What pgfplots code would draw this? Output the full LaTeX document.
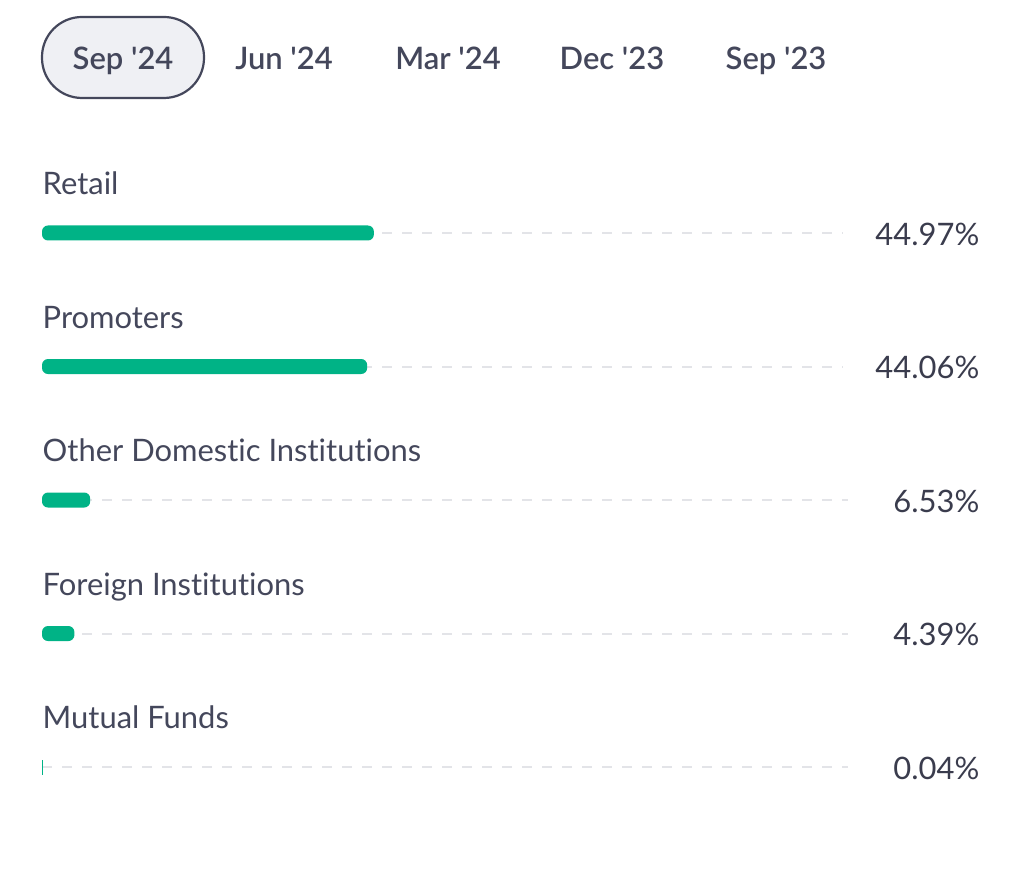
\documentclass[border=0pt]{standalone}
\usepackage{pgfplots}
\pgfplotsset{compat=1.18}
\usepackage{fontspec}
\setmainfont{Lato}[Ligatures={TeXOff,NoCommon}]
\newfontfamily\tabfont{Lato Semibold}[Ligatures={TeXOff,NoCommon}]
\definecolor{grgreen}{HTML}{00B386}
\definecolor{txt}{HTML}{44475B}
\definecolor{track}{HTML}{E3E4E8}
\definecolor{pill}{HTML}{EFF0F4}
% pixel position -> axis coordinates (x: percent, y: row index)
\newcommand{\pxy}[2]{(axis cs:{(#1-42)/7.38},{(#2-233)/133.5})}

\begin{document}
\begin{tikzpicture}[
    lab/.style={anchor=base west, inner sep=0pt, text=txt, font=\fontsize{8.8}{10}\selectfont},
    val/.style={anchor=base east, inner sep=0pt, text=txt!85!black, font=\fontsize{8.8}{10}\selectfont},
    tab/.style={anchor=base, inner sep=0pt, text=txt, font=\fontsize{8.8}{10}\tabfont},
  ]
\begin{axis}[
    scale only axis,
    width=102.4mm, height=86.9mm,
    xmin=-5.691, xmax=133.06,
    ymin=-1.745, ymax=4.764,
    y dir=reverse,
    axis lines=none,
    clip=false,
    trk/.style={sharp plot, color=track, line width=0.2mm, dash pattern=on 1mm off 1mm, forget plot},
]
% full canvas
\path \pxy{0}{0} -- \pxy{1024}{869};
% dashed tracks
\addplot[trk] coordinates {(0,0) (108.5,0)};
\addplot[trk] coordinates {(0,1) (108.5,1)};
\addplot[trk] coordinates {(0,2) (109.2,2)};
\addplot[trk] coordinates {(0,3) (109.2,3)};
\addplot[trk] coordinates {(0,4) (109.2,4)};
% bars
\addplot[xbar, bar width=1.5mm, bar shift=0pt, fill=grgreen, draw=none, rounded corners=0.6mm]
  coordinates {(44.97,0) (44.06,1) (6.53,2) (4.39,3)};
\addplot[xbar, bar width=1.5mm, bar shift=0pt, fill=grgreen, draw=none]
  coordinates {(0.04,4)};

% row labels and values
\node[lab] at (axis cs:0,-0.285) {Retail};
\node[lab] at (axis cs:0,0.715) {Promoters};
\node[lab] at (axis cs:0,1.715) {Other Domestic Institutions};
\node[lab] at (axis cs:0,2.715) {Foreign Institutions};
\node[lab] at (axis cs:0,3.715) {Mutual Funds};
\node[val] at (axis cs:127.1,0.09) {44.97\%};
\node[val] at (axis cs:127.1,1.09) {44.06\%};
\node[val] at (axis cs:127.1,2.09) {6.53\%};
\node[val] at (axis cs:127.1,3.09) {4.39\%};
\node[val] at (axis cs:127.1,4.09) {0.04\%};

% period tabs
\draw[txt, fill=pill, line width=0.22mm, rounded corners=4mm] \pxy{42}{17} rectangle \pxy{204}{98};
\node[tab] at \pxy{123}{70} {Sep '24};
\node[tab] at \pxy{284}{70} {Jun '24};
\node[tab] at \pxy{448}{70} {Mar '24};
\node[tab] at \pxy{612}{70} {Dec '23};
\node[tab] at \pxy{776}{70} {Sep '23};
\end{axis}
\end{tikzpicture}
\end{document}
